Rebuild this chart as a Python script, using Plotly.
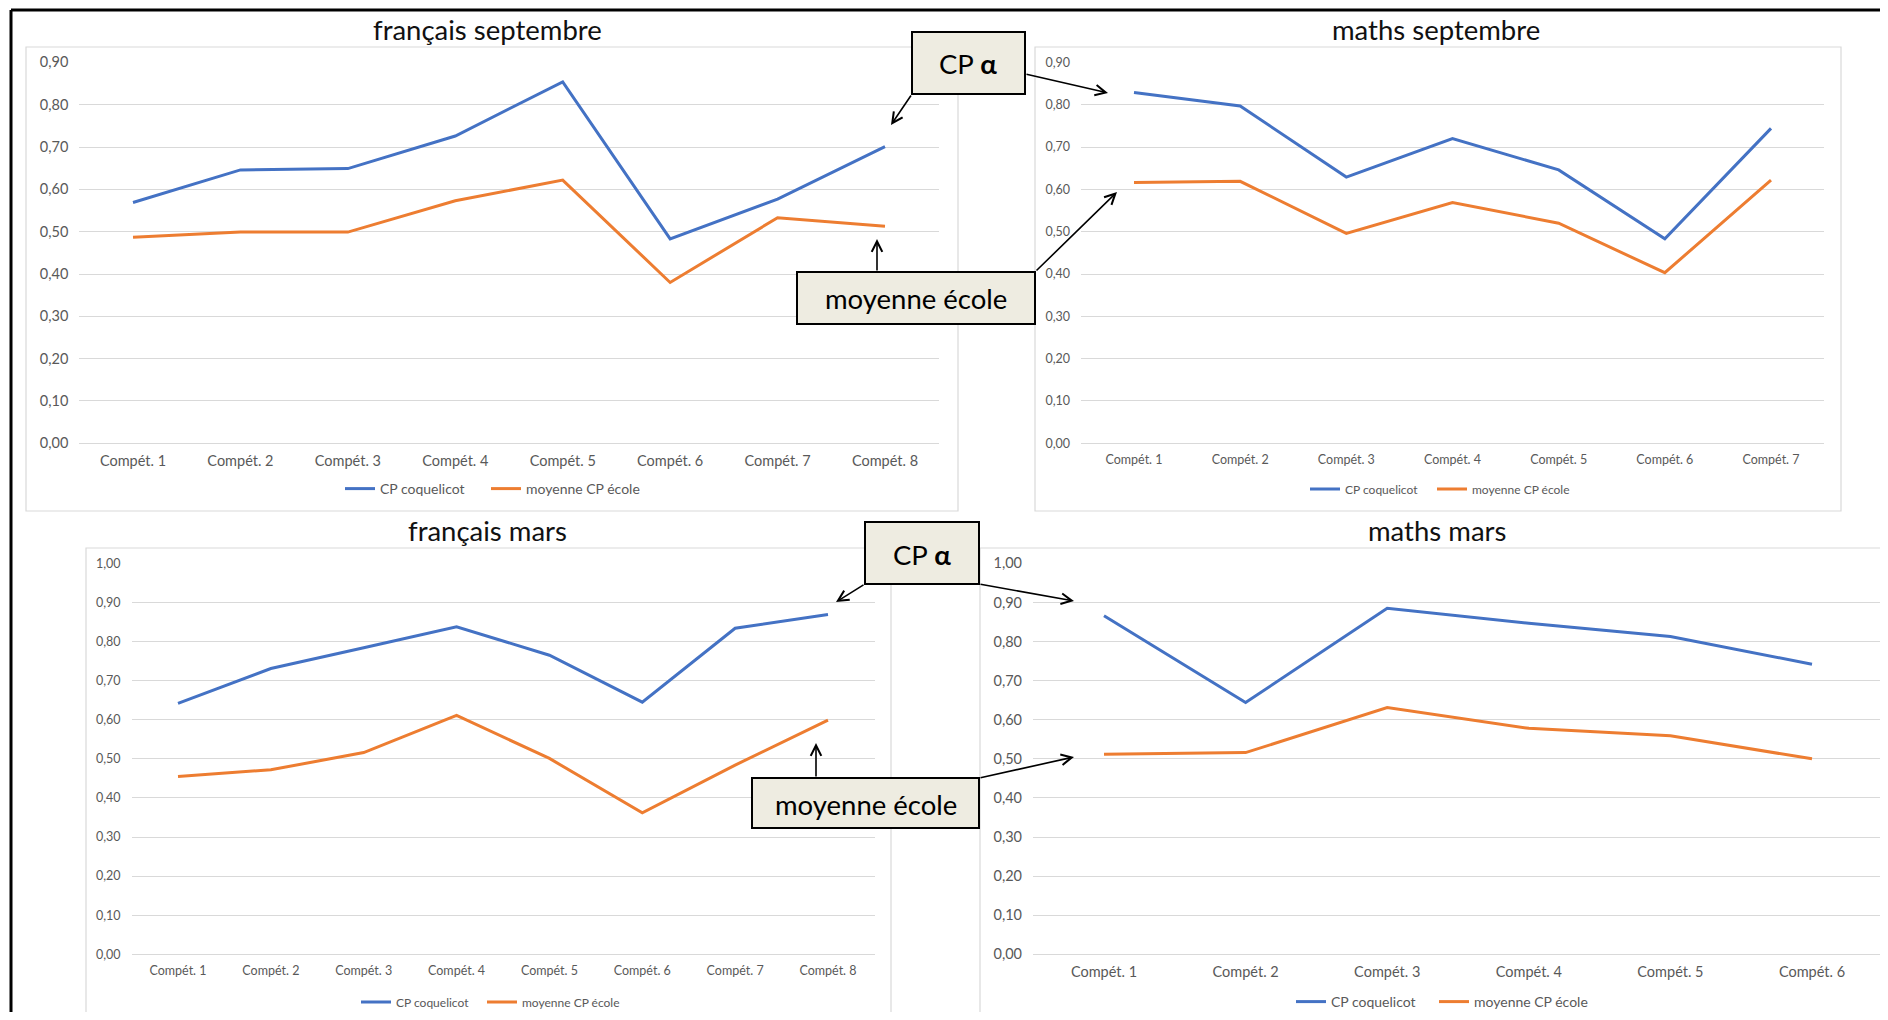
import plotly.graph_objects as go

# page is 1888x1020; the body has an 8 px margin, so the figure is 1872x1004
PAGE_W, PAGE_H = 1888, 1020
OFF = 8
W, H = PAGE_W - 2 * OFF, PAGE_H - 2 * OFF

# ---------------- data ----------------
cats_fr = ["Compét. 1", "Compét. 2", "Compét. 3", "Compét. 4",
           "Compét. 5", "Compét. 6", "Compét. 7", "Compét. 8"]
cats_ma_sept = ["Compét. 1", "Compét. 2", "Compét. 3", "Compét. 4",
                "Compét. 5", "Compét. 6", "Compét. 7"]
cats_ma_mars = ["Compét. 1", "Compét. 2", "Compét. 3", "Compét. 4",
                "Compét. 5", "Compét. 6"]

fr_sept_classe = [0.569, 0.646, 0.649, 0.726, 0.854, 0.483, 0.577, 0.701]
fr_sept_ecole = [0.487, 0.499, 0.499, 0.573, 0.622, 0.380, 0.533, 0.513]
ma_sept_classe = [0.829, 0.797, 0.629, 0.720, 0.646, 0.483, 0.744]
ma_sept_ecole = [0.616, 0.619, 0.496, 0.569, 0.520, 0.403, 0.622]
fr_mars_classe = [0.642, 0.731, 0.784, 0.838, 0.765, 0.645, 0.834, 0.869]
fr_mars_ecole = [0.455, 0.472, 0.516, 0.611, 0.501, 0.362, 0.484, 0.599]
ma_mars_classe = [0.866, 0.644, 0.885, 0.847, 0.813, 0.742]
ma_mars_ecole = [0.512, 0.516, 0.631, 0.578, 0.559, 0.500]

series_names = ["CP coquelicot", "moyenne CP école"]
titles = ["français septembre", "maths septembre", "français mars", "maths mars"]
callout_top = "CP <b>α</b>"
callout_bottom = "moyenne école"

BLUE = "#4472C4"
ORANGE = "#ED7D31"
GRID = "#D9D9D9"
TICK = "#595959"
FONT = "Lato, 'Liberation Sans', sans-serif"


def px(x):
    return (x - OFF) / W


def py(y):
    return 1 - (y - OFF) / H


# c0/c1: page-pixel centre of first/last category; x0/x1: plot area
panels = [
    dict(cats=cats_fr, a=fr_sept_classe, b=fr_sept_ecole, ymax=0.9,
         c0=133, c1=885, x0=79.3, x1=938.7, yt=62.3, yb=443.3, fs=14.5,
         title=(488, 30), leg=(345, 489), ew=101, box=(26, 47, 958, 511)),
    dict(cats=cats_ma_sept, a=ma_sept_classe, b=ma_sept_ecole, ymax=0.9,
         c0=1134, c1=1771, x0=1081, x1=1824, yt=62.3, yb=443.3, fs=12.5,
         title=(1436, 30), leg=(1310, 489), ew=82, box=(1035, 47, 1841, 511)),
    dict(cats=cats_fr, a=fr_mars_classe, b=fr_mars_ecole, ymax=1.0,
         c0=178, c1=828, x0=131.5, x1=874.5, yt=563.3, yb=954.3, fs=12.5,
         title=(488, 530), leg=(361, 1002), ew=81, box=(86, 548, 891, 1040)),
    dict(cats=cats_ma_mars, a=ma_mars_classe, b=ma_mars_ecole, ymax=1.0,
         c0=1104, c1=1812, x0=1033, x1=1880, yt=563.3, yb=954.3, fs=14.5,
         title=(1437, 530), leg=(1296, 1002), ew=98, box=(980, 548, 1900, 1040)),
]

fig = go.Figure()
layout = dict(
    width=W, height=H, autosize=False,
    margin=dict(l=0, r=0, t=0, b=0, pad=0, autoexpand=False),
    paper_bgcolor="white", plot_bgcolor="white",
    separators=", ",
    font=dict(family=FONT, color=TICK),
    shapes=[], annotations=[],
)

for i, p in enumerate(panels):
    k = "" if i == 0 else str(i + 1)
    legname = "legend" if i == 0 else f"legend{i + 1}"
    n = len(p["cats"])
    sp = (p["c1"] - p["c0"]) / (n - 1)
    xr = [(p["x0"] - p["c0"]) / sp, (p["x1"] - p["c0"]) / sp]
    for vals, name, col, lw in ((p["a"], series_names[0], BLUE, p["ew"]),
                                (p["b"], series_names[1], ORANGE, 160)):
        fig.add_trace(go.Scatter(
            x=p["cats"], y=vals, name=name, mode="lines",
            line=dict(color=col, width=3),
            xaxis="x" + k, yaxis="y" + k, legend=legname,
            showlegend=True, legendwidth=lw,
        ))
    layout["xaxis" + k] = dict(
        domain=[max(0, px(p["x0"])), min(1, px(p["x1"]))], anchor="y" + k,
        type="category", range=xr, automargin=False,
        showgrid=False, zeroline=False, showline=False, ticks="",
        tickfont=dict(size=p["fs"], color=TICK, family=FONT),
        ticklabelstandoff=7,
    )
    layout["yaxis" + k] = dict(
        domain=[py(p["yb"]), py(p["yt"])], anchor="x" + k,
        range=[0, p["ymax"] + 0.0002], dtick=0.1, tick0=0, automargin=False,
        tickformat=".2f", showgrid=True, gridcolor=GRID, gridwidth=1,
        zeroline=True, zerolinecolor=GRID, zerolinewidth=1,
        showline=False, ticks="",
        tickfont=dict(size=p["fs"], color=TICK, family=FONT),
        ticklabelstandoff=10,
    )
    layout[legname] = dict(
        orientation="h", x=px(p["leg"][0] - 5), y=py(p["leg"][1]),
        xanchor="left", yanchor="middle",
        bgcolor="rgba(0,0,0,0)",
        font=dict(size=p["fs"] - 0.5, color=TICK, family=FONT),
        itemwidth=30, tracegroupgap=0,
    )
    bx0, by0, bx1, by1 = p["box"]
    layout["shapes"].append(dict(
        type="rect", xref="paper", yref="paper",
        x0=px(bx0), x1=px(bx1), y0=py(by1), y1=py(by0),
        line=dict(color=GRID, width=1.2), fillcolor="rgba(0,0,0,0)", layer="below",
    ))
    layout["annotations"].append(dict(
        text=titles[i], xref="paper", yref="paper",
        x=px(p["title"][0]), y=py(p["title"][1]),
        xanchor="center", yanchor="middle", showarrow=False,
        font=dict(size=27.5, color="#111111", family=FONT),
    ))

# outer black frame (top and left)
layout["shapes"].append(dict(type="line", xref="paper", yref="paper",
                             x0=px(11), x1=px(1900), y0=py(10), y1=py(10),
                             line=dict(color="black", width=3)))
layout["shapes"].append(dict(type="line", xref="paper", yref="paper",
                             x0=px(11), x1=px(11), y0=py(10), y1=py(1030),
                             line=dict(color="black", width=3)))

# callout boxes: (x0, y0, x1, y1, text)
callouts = [
    (912, 32, 1025, 94, callout_top),
    (797, 272, 1035, 324, callout_bottom),
    (865, 522, 979, 584, callout_top),
    (752, 778, 979, 828, callout_bottom),
]
for x0, y0, x1, y1, txt in callouts:
    layout["shapes"].append(dict(
        type="rect", xref="paper", yref="paper",
        x0=px(x0), x1=px(x1), y0=py(y1), y1=py(y0),
        line=dict(color="black", width=2), fillcolor="#EEECE1", layer="above",
    ))
    layout["annotations"].append(dict(
        text=txt, xref="paper", yref="paper",
        x=px((x0 + x1) / 2), y=py((y0 + y1) / 2 + 1),
        xanchor="center", yanchor="middle", showarrow=False,
        font=dict(size=27.5, color="black", family=FONT),
    ))

# arrows: (tail_x, tail_y, head_x, head_y)
arrows = [
    (912, 94, 891, 125),
    (1025, 74, 1108, 93),
    (877, 272, 877, 239),
    (1035, 272, 1117, 192),
    (865, 584, 836, 602),
    (979, 584, 1074, 601),
    (816, 778, 816, 743),
    (979, 778, 1074, 757),
]
for tx, ty, hx, hy in arrows:
    layout["annotations"].append(dict(
        text="", xref="paper", yref="paper",
        x=px(hx), y=py(hy), ax=tx - hx, ay=ty - hy, axref="pixel", ayref="pixel",
        showarrow=True, arrowhead=5, arrowsize=1.3, arrowwidth=1.6,
        arrowcolor="black", standoff=0, startstandoff=0,
    ))

fig.update_layout(**layout)
fig.write_html("out.html")
